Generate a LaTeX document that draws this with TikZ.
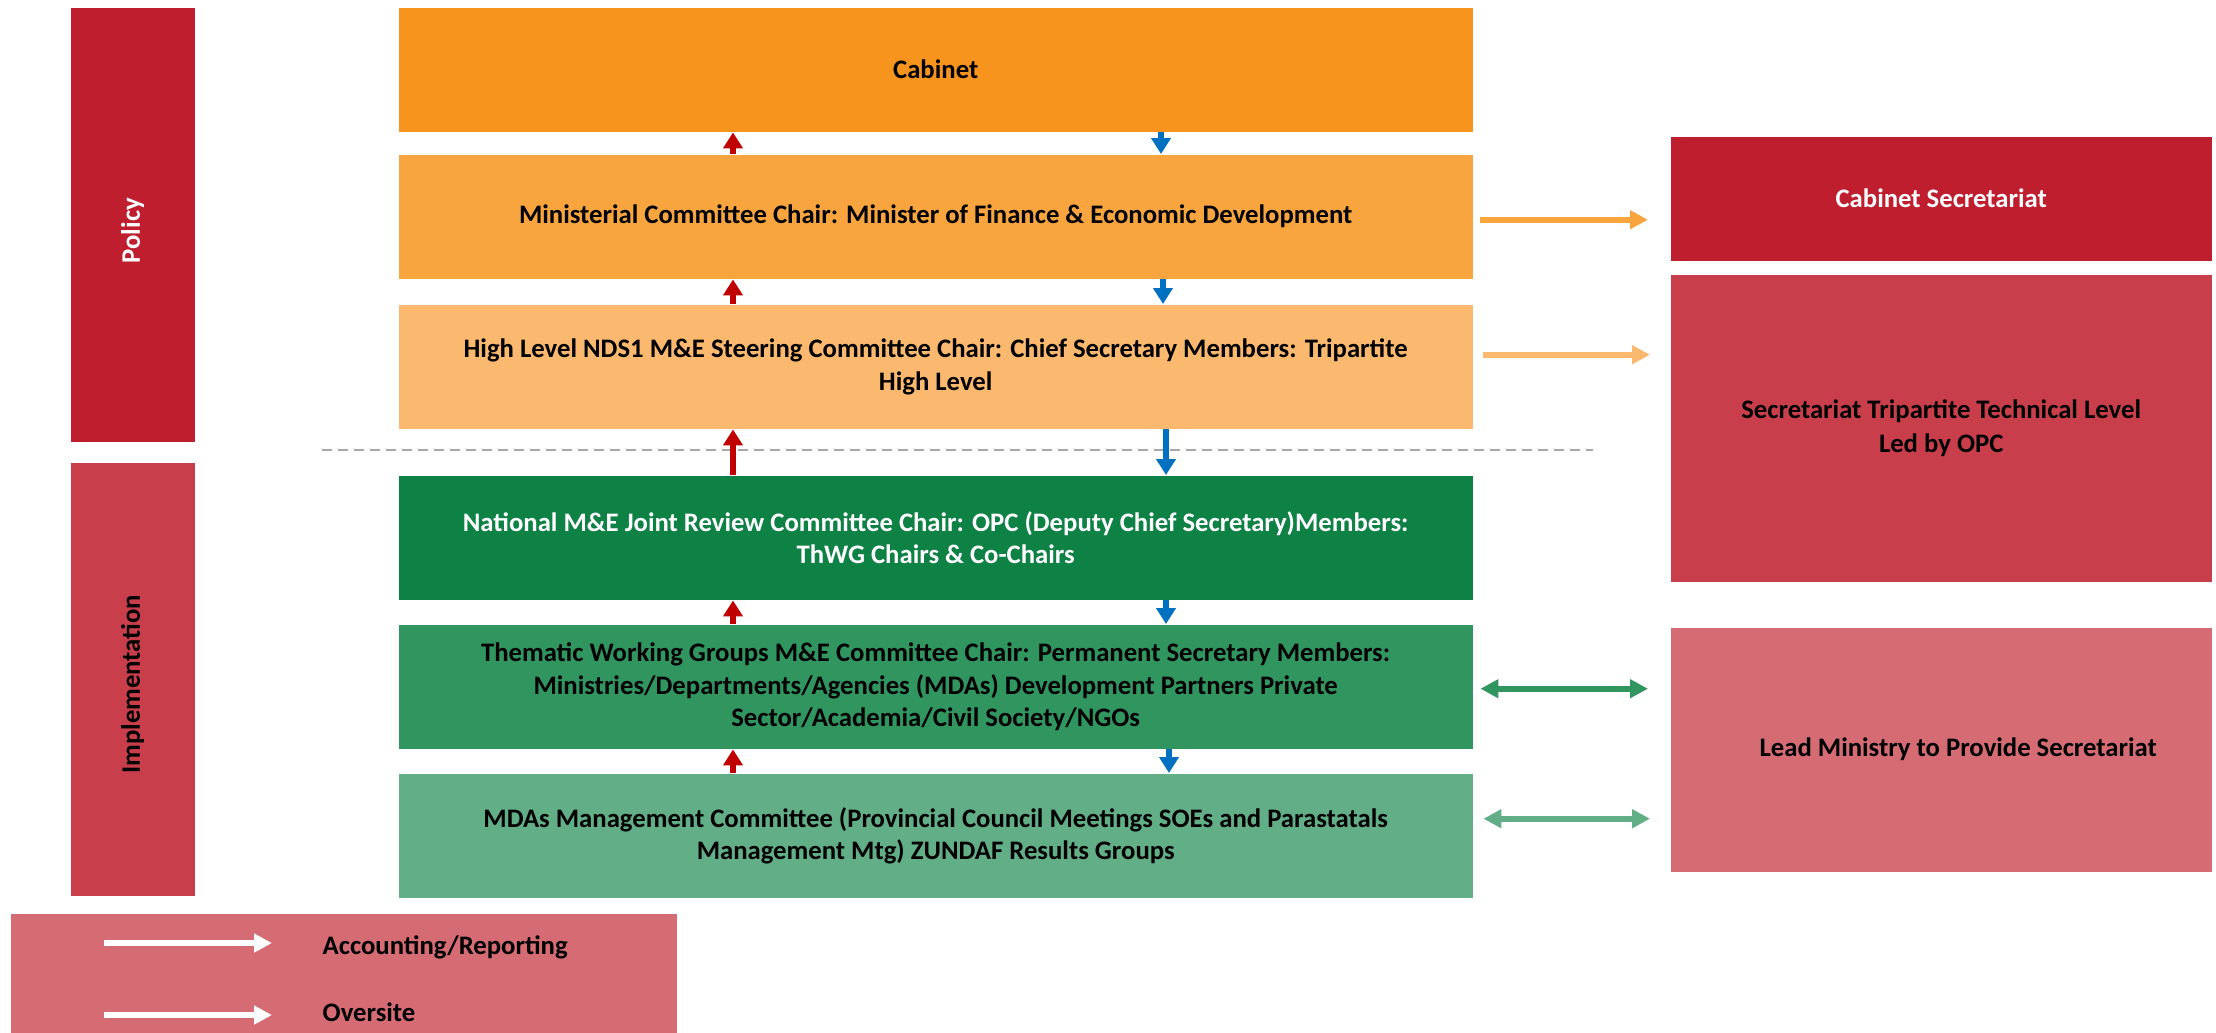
\documentclass[tikz,border=0pt]{standalone}
\usepackage{fontspec}
\setmainfont{Carlito}
\usetikzlibrary{arrows.meta}
\definecolor{cab_o}{HTML}{F7941E}
\definecolor{min_o}{HTML}{F8A540}
\definecolor{high_o}{HTML}{FBB96F}
\definecolor{nat_g}{HTML}{0E8145}
\definecolor{them_g}{HTML}{319560}
\definecolor{mda_g}{HTML}{62AE86}
\definecolor{red_a}{HTML}{BE1E2D}
\definecolor{red_b}{HTML}{C83F4B}
\definecolor{red_c}{HTML}{D56C74}
\definecolor{up_r}{HTML}{C00000}
\definecolor{down_b}{HTML}{0070C0}
\tikzset{
  box/.style = {rectangle, inner sep=0pt, align=center, anchor=north west,
    font=\bfseries\fontsize{7.6}{9.2}\selectfont},
  lvl/.style = {box, minimum width=10.74cm, minimum height=1.24cm},% central levels
  side/.style = {box, minimum width=5.41cm, font=\bfseries\fontsize{7.6}{9.4}\selectfont},
  bar/.style = {box, minimum width=1.24cm},% policy / implementation
  lbl/.style = {inner sep=0pt, font=\bfseries\fontsize{7.6}{9}\selectfont},
  uparr/.style = {up_r, line width=0.065cm, -{Triangle[width=0.19cm,length=0.16cm]}},
  downarr/.style = {down_b, line width=0.065cm, -{Triangle[width=0.19cm,length=0.16cm]}},
  sidearr/.style = {line width=0.06cm, -{Triangle[width=0.18cm,length=0.18cm]}},
  botharr/.style = {line width=0.06cm, {Triangle[width=0.18cm,length=0.18cm]}-{Triangle[width=0.18cm,length=0.18cm]}}
}
\begin{document}
\begin{tikzpicture}
\useasboundingbox (0,0) rectangle (22.16,-10.32);
% side bars
\node [bar, fill=red_a, minimum height=4.34cm] (pol) at (0.70,-0.07) {};
\node [lbl, white, rotate=90] (poltxt) at ([yshift=-0.06cm]pol.center) {Policy};
\node [bar, fill=red_b, minimum height=4.33cm] (imp) at (0.70,-4.62) {};
\node [lbl, rotate=90] (imptxt) at ([yshift=-0.05cm]imp.center) {Implementation};
% central levels
\node [lvl, fill=cab_o] (cab) at (3.98,-0.07) {Cabinet};
\node [lvl, fill=min_o] (min) at (3.98,-1.54) {Ministerial Committee Chair: Minister of Finance \& Economic Development};
\node [lvl, fill=high_o] (high) at (3.98,-3.04) {High Level NDS1 M\&E Steering Committee Chair: Chief Secretary Members: Tripartite\\High Level};
\node [lvl, fill=nat_g, text=white] (nat) at (3.98,-4.75) {National M\&E Joint Review Committee Chair: OPC (Deputy Chief Secretary)Members:\\ThWG Chairs \& Co-Chairs};
\node [lvl, fill=them_g] (them) at (3.98,-6.24) {Thematic Working Groups M\&E Committee Chair: Permanent Secretary Members:\\Ministries/Departments/Agencies (MDAs) Development Partners Private\\Sector/Academia/Civil Society/NGOs};
\node [lvl, fill=mda_g] (mdas) at (3.98,-7.73) {MDAs Management Committee (Provincial Council Meetings SOEs and Parastatals\\Management Mtg) ZUNDAF Results Groups};
\draw [gray!70, line width=0.02cm, dash pattern=on 0.1cm off 0.06cm] (3.22,-4.50) coordinate (dl) -- (15.93,-4.50) coordinate (dr);
% right side
\node [side, fill=red_a, text=white, minimum height=1.24cm] (cabsec) at (16.70,-1.36) {Cabinet Secretariat};
\node [side, fill=red_b, minimum height=3.07cm] (sectri) at (16.70,-2.74) {Secretariat Tripartite Technical Level\\Led by OPC};
\node [side, fill=red_c, minimum height=2.44cm] (lead) at (16.70,-6.27) {\hspace*{0.34cm}Lead Ministry to Provide Secretariat};
% reporting up, oversight down
\coordinate (rx) at (7.33,0);
\draw [uparr] (min.north -| rx) -- (cab.south -| rx);
\draw [uparr] (high.north -| rx) -- (min.south -| rx);
\draw [uparr] (nat.north -| rx) -- (high.south -| rx);
\draw [uparr] (them.north -| rx) -- (nat.south -| rx);
\draw [uparr] (mdas.north -| rx) -- (them.south -| rx);
\draw [downarr] (cab.south -| 11.61,0) -- (min.north -| 11.61,0);
\draw [downarr] (min.south -| 11.63,0) -- (high.north -| 11.63,0);
\draw [downarr] (high.south -| 11.66,0) -- (nat.north -| 11.66,0);
\draw [downarr] (nat.south -| 11.66,0) -- (them.north -| 11.66,0);
\draw [downarr] (them.south -| 11.69,0) -- (mdas.north -| 11.69,0);
% links to secretariats
\draw [sidearr, min_o, shorten <=0.07cm, shorten >=0.22cm] ([yshift=-0.03cm]min.east) -- ([yshift=-0.03cm]cabsec.west |- min.east);
\draw [sidearr, high_o, shorten <=0.10cm, shorten >=0.20cm] ([yshift=0.12cm]high.east) -- ([yshift=0.12cm]sectri.west |- high.east);
\draw [botharr, them_g, shorten <=0.07cm, shorten >=0.22cm] ([yshift=-0.02cm]them.east) -- ([yshift=-0.02cm]lead.west |- them.east);
\draw [botharr, mda_g, shorten <=0.10cm, shorten >=0.20cm] ([yshift=0.17cm]mdas.east) -- ([yshift=0.17cm]lead.west |- mdas.east);
% legend
\node [box, fill=red_c, minimum width=6.66cm, minimum height=1.19cm] (leg) at (0.10,-9.13) {};
\coordinate (acc_a) at (1.04,-9.43);
\coordinate (acc_b) at (2.72,-9.43);
\coordinate (ovr_a) at (1.04,-10.15);
\coordinate (ovr_b) at (2.72,-10.15);
\draw [sidearr, white] (acc_a) -- (acc_b);
\draw [sidearr, white] (ovr_a) -- (ovr_b);
\node [lbl, anchor=west] (acc) at (3.22,-9.47) {Accounting/Reporting};
\node [lbl, anchor=west] (ovr) at (3.22,-10.12) {Oversite};
\end{tikzpicture}
\end{document}
